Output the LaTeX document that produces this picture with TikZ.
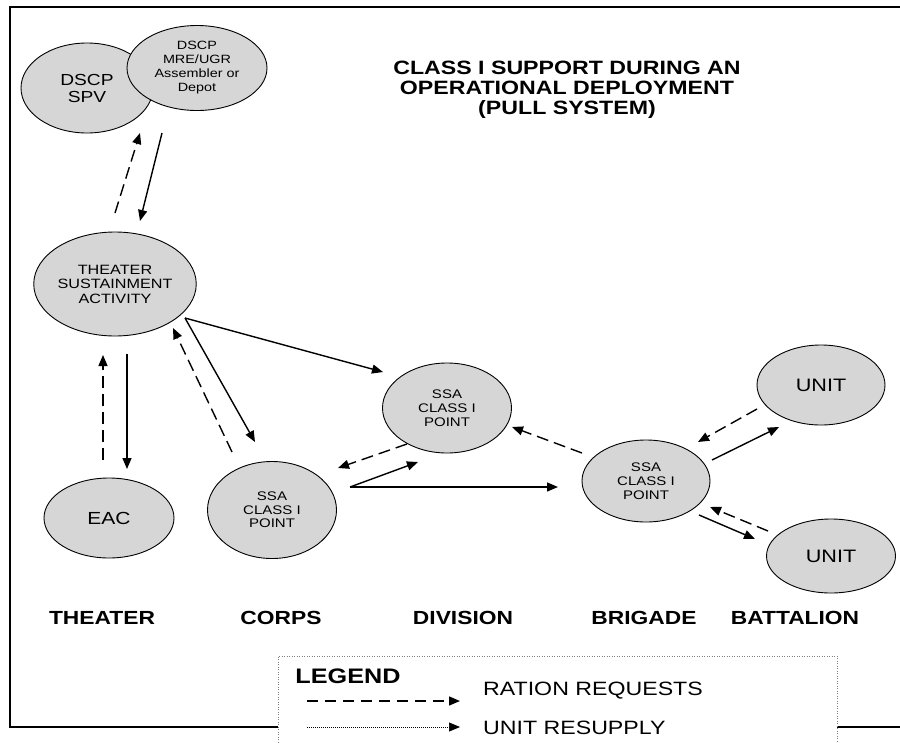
\documentclass[tikz,border=0pt]{standalone}
\usepackage{fontspec}
\setmainfont[FakeStretch=1.2]{Liberation Sans}
\usetikzlibrary{shapes.geometric,arrows.meta}
\definecolor{ellfill}{RGB}{214,214,214}
\begin{document}
\begin{tikzpicture}[x=1pt,y=-1pt,
  ell/.style={ellipse,draw,line width=0.9pt,fill=ellfill,inner sep=0pt,align=center},
  conn/.style={line width=1.4pt,-{Triangle[length=11pt,width=9pt]}},
  req/.style={conn,dash pattern=on 12pt off 6pt},
  lvl/.style={font=\fontsize{19}{20}\selectfont\bfseries},
]
\useasboundingbox (0,0) rectangle (900,742);
% frame
\draw[line width=2.2pt] (278,727) -- (10,727) -- (10,7) -- (910,7);
\draw[line width=2.2pt] (837,727) -- (910,727);
% legend box
\draw[gray,line width=0.8pt,dash pattern=on 1pt off 1.5pt] (278,760) -- (278,656) -- (837,656) -- (837,760);

% title
\node[align=center,font=\fontsize{19.3}{20}\selectfont\bfseries] (title) at (567,90)
  {CLASS I SUPPORT DURING AN\\OPERATIONAL DEPLOYMENT\\(PULL SYSTEM)};

% ellipses
\node[ell,minimum width=132pt,minimum height=90pt,font=\fontsize{16}{17}\selectfont] (spv) at (87,88) {DSCP\\SPV};
\node[ell,minimum width=140pt,minimum height=85pt,font=\fontsize{12}{14}\selectfont] (mre) at (197,68) {DSCP\\MRE/UGR\\Assembler or\\Depot};
\node[ell,minimum width=140pt,minimum height=104pt,font=\fontsize{13.5}{14.5}\selectfont] (tsa) at (115,284) {THEATER\\SUSTAINMENT\\ACTIVITY};
\node[ell,minimum width=130pt,minimum height=80pt,font=\fontsize{17.5}{18}\selectfont] (eac) at (109,518) {EAC};
\node[ell,minimum width=129pt,minimum height=97pt,font=\fontsize{12.5}{13.5}\selectfont] (corps) at (272,510) {SSA\\CLASS I\\POINT};
\node[ell,minimum width=129pt,minimum height=90pt,font=\fontsize{12.5}{14}\selectfont] (div) at (447,408) {SSA\\CLASS I\\POINT};
\node[ell,minimum width=128pt,minimum height=82pt,font=\fontsize{12.5}{14}\selectfont] (brig) at (646,481) {SSA\\CLASS I\\POINT};
\node[ell,minimum width=128pt,minimum height=80pt,font=\fontsize{18}{18}\selectfont] (unit1) at (821,385) {UNIT};
\node[ell,minimum width=129pt,minimum height=74pt,font=\fontsize{18}{18}\selectfont] (unit2) at (831,556) {UNIT};

% level labels
\node[lvl] (lthe) at (102,618) {THEATER};
\node[lvl] (lcor) at (281,618) {CORPS};
\node[lvl] (ldiv) at (463,618) {DIVISION};
\node[lvl] (lbri) at (644,618) {BRIGADE};
\node[lvl] (lbat) at (795,618) {BATTALION};

% connector end points
\coordinate (r1s) at (115,213); \coordinate (r1e) at (140,133);
\coordinate (s1s) at (162,133); \coordinate (s1e) at (140,221);
\coordinate (r2s) at (103,460); \coordinate (r2e) at (103,355);
\coordinate (s2s) at (127,354); \coordinate (s2e) at (127,469);
\coordinate (r3s) at (232,452); \coordinate (r3e) at (173,328);
\coordinate (t0)  at (185,318);
\coordinate (s3e) at (255,442); \coordinate (s4e) at (383,372);
\coordinate (r4s) at (407,444); \coordinate (r4e) at (338,468);
\coordinate (c0)  at (350,487);
\coordinate (s5e) at (418,462); \coordinate (s6e) at (558,487);
\coordinate (r5s) at (582,453); \coordinate (r5e) at (512,427);
\coordinate (r6s) at (757,409); \coordinate (r6e) at (698,442);
\coordinate (s7s) at (712,460); \coordinate (s7e) at (779,427);
\coordinate (r7s) at (768,531); \coordinate (r7e) at (710,507);
\coordinate (s8s) at (699,515); \coordinate (s8e) at (755,539);

% connectors
\draw[req]  (r1s) -- (r1e);
\draw[conn] (s1s) -- (s1e);
\draw[req]  (r2s) -- (r2e);
\draw[conn] (s2s) -- (s2e);
\draw[req]  (r3s) -- (r3e);
\draw[conn] (t0) -- (s3e);
\draw[conn] (t0) -- (s4e);
\draw[req]  (r4s) -- (r4e);
\draw[conn] (c0) -- (s5e);
\draw[conn] (c0) -- (s6e);
\draw[req]  (r5s) -- (r5e);
\draw[req]  (r6s) -- (r6e);
\draw[conn] (s7s) -- (s7e);
\draw[req]  (r7s) -- (r7e);
\draw[conn] (s8s) -- (s8e);

% legend
\node[font=\fontsize{21}{21}\selectfont\bfseries] (leg) at (348,676) {LEGEND};
\coordinate (l1s) at (307,701); \coordinate (l1e) at (460,701);
\coordinate (l2s) at (307,727); \coordinate (l2e) at (460,727);
\draw[conn,dash pattern=on 11pt off 7pt] (l1s) -- (l1e);
\draw[line width=0.7pt,dash pattern=on 1pt off 1pt,-{Triangle[length=11pt,width=9pt]}] (l2s) -- (l2e);
\node[anchor=west,inner sep=0pt,font=\fontsize{19.3}{20}\selectfont] (lt1) at (483,691) {RATION REQUESTS};
\node[anchor=west,inner sep=0pt,font=\fontsize{19.3}{20}\selectfont] (lt2) at (483,728) {UNIT RESUPPLY};
\end{tikzpicture}
\end{document}
